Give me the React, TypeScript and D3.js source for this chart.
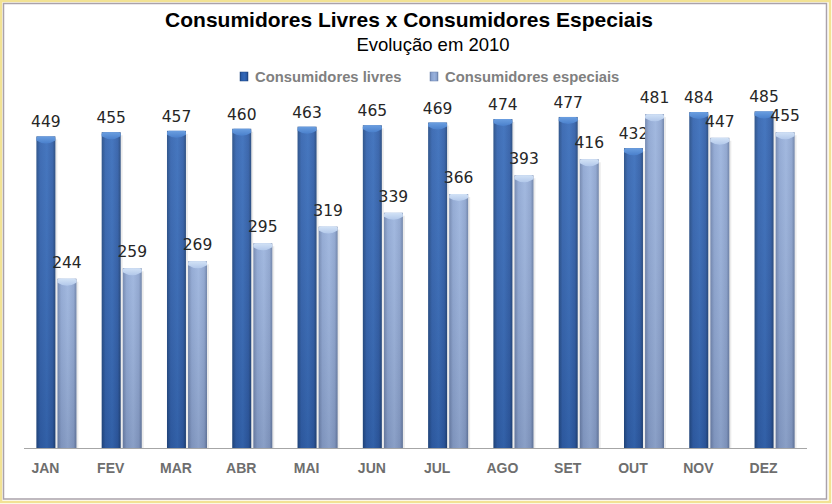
import React from "react";
import * as d3 from "d3";

const months = ["JAN", "FEV", "MAR", "ABR", "MAI", "JUN", "JUL", "AGO", "SET", "OUT", "NOV", "DEZ"];
const livres = [449, 455, 457, 460, 463, 465, 469, 474, 477, 432, 484, 485];
const especiais = [244, 259, 269, 295, 319, 339, 366, 393, 416, 481, 447, 455];
const seriesNames = ["Consumidores livres", "Consumidores especiais"];
const seriesKeys = ["livres", "especiais"];

const W = 832;
const H = 504;

export default function App() {
  const x0 = d3.scaleBand<string>().domain(months).range([24, 807]).paddingInner(0.387).paddingOuter(0.19);
  const x1 = d3.scaleBand<string>().domain(seriesKeys).range([0, x0.bandwidth()]).paddingInner(0.1);
  const y = d3.scaleLinear().domain([0, 500]).range([448, 101]);
  const data = months.map((m, i) => ({ m, vals: [livres[i], especiais[i]] }));
  const bw = x1.bandwidth();

  const capPath = (x: number, top: number, w: number) => {
    const cx = x + w / 2;
    return `M${x},${top + 2} Q${x},${top} ${x + 2},${top} L${x + w - 2},${top} Q${x + w},${top} ${x + w},${top + 2} L${x + w},${top + 4} Q${cx},${top + 10} ${x},${top + 4} Z`;
  };

  return (
    <svg width={W} height={H} style={{ position: "fixed", left: 0, top: 0, background: "#fff" }}>
      <defs>
        <linearGradient id="gDark" x1="0" x2="1" y1="0" y2="0">
          <stop offset="0" stopColor="#1c4580" />
          <stop offset="0.2" stopColor="#2c5eac" />
          <stop offset="0.55" stopColor="#3268b8" />
          <stop offset="0.85" stopColor="#2958a4" />
          <stop offset="1" stopColor="#1a3f76" />
        </linearGradient>
        <linearGradient id="gLight" x1="0" x2="1" y1="0" y2="0">
          <stop offset="0" stopColor="#6a80aa" />
          <stop offset="0.2" stopColor="#8aa3d0" />
          <stop offset="0.55" stopColor="#98b1dc" />
          <stop offset="0.85" stopColor="#88a0cc" />
          <stop offset="1" stopColor="#647aa2" />
        </linearGradient>
        <linearGradient id="gShade" x1="0" x2="0" y1="0" y2="1">
          <stop offset="0" stopColor="#ffffff" stopOpacity="0.1" />
          <stop offset="1" stopColor="#303040" stopOpacity="0.14" />
        </linearGradient>
        <linearGradient id="gCapDark" x1="0" x2="0" y1="0" y2="1">
          <stop offset="0" stopColor="#6a9ee0" />
          <stop offset="1" stopColor="#4a80cc" />
        </linearGradient>
        <linearGradient id="gCapLight" x1="0" x2="0" y1="0" y2="1">
          <stop offset="0" stopColor="#d2e2f6" />
          <stop offset="1" stopColor="#b2c8ea" />
        </linearGradient>
      </defs>
      <rect x={1} y={1} width={829} height={501} fill="#fff" stroke="#f2e294" strokeWidth={2.5} />
      <rect x={3.5} y={3.5} width={823} height={495.5} fill="none" stroke="#aaa2aa" strokeWidth={1.5} />

      <text x={409} y={27} textAnchor="middle" fontFamily="Liberation Sans, Arial" fontWeight="bold" fontSize={21} fill="#000">
        Consumidores Livres x Consumidores Especiais
      </text>
      <text x={433} y={51} textAnchor="middle" fontFamily="Liberation Sans, Arial" fontSize={18.5} fill="#000">
        Evolução em 2010
      </text>

      {seriesNames.map((name, i) => {
        const lx = i === 0 ? 240 : 430;
        return (
          <g key={name}>
            <rect x={lx} y={72} width={8} height={9} fill={i === 0 ? "url(#gDark)" : "url(#gLight)"} stroke={i === 0 ? "#1c4580" : "#6a80aa"} strokeWidth={0.5} />
            <text x={lx + 15} y={81.5} fontFamily="Liberation Sans, Arial" fontWeight="bold" fontSize={14.8} fill="#808080">
              {name}
            </text>
          </g>
        );
      })}

      <line x1={24} x2={807} y1={448.5} y2={448.5} stroke="#a6a6a6" strokeWidth={1} />

      {data.map((d) => (
        <g key={d.m} transform={`translate(${x0(d.m)},0)`}>
          {d.vals.map((v, j) => {
            const bx = x1(seriesKeys[j])!;
            const top = y(v);
            const h = y(0) - top;
            return (
              <g key={j}>
                <rect x={bx + 2} y={top + 3} width={bw} height={h - 3} fill="#000" opacity={0.08} />
                <rect x={bx} y={top} width={bw} height={h} fill={j === 0 ? "url(#gDark)" : "url(#gLight)"} />
                <rect x={bx} y={top} width={bw} height={h} fill="url(#gShade)" />
                <path d={capPath(bx, top, bw)} fill={j === 0 ? "url(#gCapDark)" : "url(#gCapLight)"} />
                <text x={bx + bw / 2} y={top - (j === 0 ? 9 : 11)} textAnchor="middle" fontFamily="DejaVu Sans" fontSize={15.5} fill="#262626">
                  {v}
                </text>
              </g>
            );
          })}
          <text x={x0.bandwidth() / 2 - 11} y={473} textAnchor="middle" fontFamily="Liberation Sans, Arial" fontWeight="bold" fontSize={14} fill="#6e6e6e">
            {d.m}
          </text>
        </g>
      ))}
    </svg>
  );
}
